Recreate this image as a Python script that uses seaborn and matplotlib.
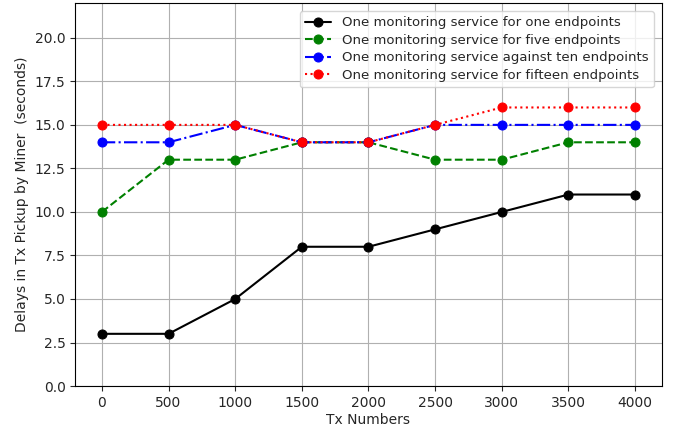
import matplotlib
matplotlib.use("Agg")
import matplotlib.pyplot as plt
import seaborn as sns
import pandas as pd

tx_numbers = [0, 500, 1000, 1500, 2000, 2500, 3000, 3500, 4000]
one_endpoint = [3, 3, 5, 8, 8, 9, 10, 11, 11]
five_endpoints = [10, 13, 13, 14, 14, 13, 13, 14, 14]
ten_endpoints = [14, 14, 15, 14, 14, 15, 15, 15, 15]
fifteen_endpoints = [15, 15, 15, 14, 14, 15, 16, 16, 16]

labels = [
    "One monitoring service for one endpoints",
    "One monitoring service for five endpoints",
    "One monitoring service against ten endpoints",
    "One monitoring service for fifteen endpoints",
]
series = [one_endpoint, five_endpoints, ten_endpoints, fifteen_endpoints]
colors = ["black", "green", "blue", "red"]
styles = ["-", "--", "-.", ":"]

sns.set_style("ticks")
plt.rcParams["font.family"] = ["DejaVu Sans"]

fig = plt.figure(figsize=(6.78, 4.28), dpi=100)
ax = fig.add_axes([0.111, 0.098, 0.865, 0.895])

for lab, vals, c, ls in zip(labels, series, colors, styles):
    df = pd.DataFrame({"x": tx_numbers, "y": vals})
    sns.lineplot(data=df, x="x", y="y", ax=ax, color=c, linestyle=ls,
                 marker="o", markersize=6.5, markeredgecolor=c, label=lab,
                 linewidth=1.5)

ax.set_xticks(tx_numbers)
ax.set_xlim(-200, 4200)
ax.set_ylim(0, 22)
ax.set_yticks([0, 2.5, 5, 7.5, 10, 12.5, 15, 17.5, 20])
ax.set_yticklabels([f"{v:.1f}" for v in [0, 2.5, 5, 7.5, 10, 12.5, 15, 17.5, 20]])
ax.grid(True, color="#b0b0b0", linewidth=0.8)
ax.set_axisbelow(True)
for s in ax.spines.values():
    s.set_visible(True)
    s.set_color("black")
ax.set_xlabel("Tx Numbers", fontsize=10, labelpad=2)
ax.set_ylabel("Delays in Tx Pickup by Miner  (seconds)", fontsize=10)
ax.tick_params(labelsize=10, direction="out")
ax.legend(loc="upper right", fontsize=9.5, framealpha=0.8, labelspacing=0.35,
          borderaxespad=0.6)

fig.savefig("out.png", dpi=100)
